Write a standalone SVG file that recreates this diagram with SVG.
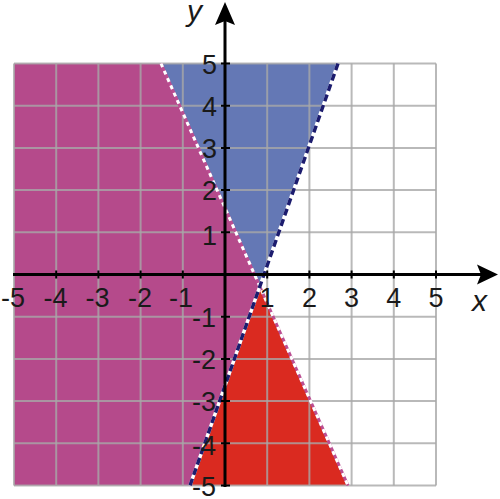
<svg xmlns="http://www.w3.org/2000/svg" width="500" height="499" viewBox="0 0 500 499">
<defs>
<style>
.grid{stroke:#a8a8a8;stroke-width:2;stroke-opacity:0.8;fill:none}
.axis{stroke:#000;stroke-width:3;fill:none}
.tick{stroke:#000;stroke-width:2}
.lbl{font-family:"Liberation Sans",Arial,sans-serif;font-size:27px;fill:#1a1a1a}
.var{font-family:"Liberation Sans",Arial,sans-serif;font-style:italic;font-size:30px;fill:#1a1a1a}
</style>
</defs>
<rect width="500" height="499" fill="#fff"/>
<g id="regions">
<polygon points="14,63.5 161,63.5 259.8,286 190,485.5 14,485.5" fill="#b54a8b"/>
<polygon points="161,63.5 338,63.5 259.8,286" fill="#6478b5"/>
<polygon points="259.8,286 348,485.5 190,485.5" fill="#da2a20"/>
</g>
<g id="grid" class="grid">
<path d="M14,63.5V485.5M56.2,63.5V485.5M98.4,63.5V485.5M140.6,63.5V485.5M182.8,63.5V485.5M267.2,63.5V485.5M309.4,63.5V485.5M351.6,63.5V485.5M393.8,63.5V485.5M436,63.5V485.5"/>
<path d="M14,63.5H436M14,105.7H436M14,147.9H436M14,190.1H436M14,232.3H436M14,316.7H436M14,358.9H436M14,401.1H436M14,443.3H436M14,485.5H436"/>
</g>
<g id="boundaries">
<line x1="161" y1="63.5" x2="348" y2="485.5" stroke="#bb4e92" stroke-width="3"/>
<line x1="161" y1="63.5" x2="348" y2="485.5" stroke="#fff" stroke-width="3" stroke-dasharray="4 4"/>
<line x1="338" y1="63.5" x2="190" y2="485.5" stroke="#fff" stroke-width="3.5"/>
<line x1="338" y1="63.5" x2="190" y2="485.5" stroke="#1c1c6e" stroke-width="3.5" stroke-dasharray="7 4"/>
</g>
<g id="axes">
<line class="axis" x1="13" y1="274.5" x2="484" y2="274.5"/>
<polygon points="498,274.5 477,264.5 481,274.5 477,284.5" fill="#000"/>
<line class="axis" x1="225" y1="487" x2="225" y2="18"/>
<polygon points="225,2 215,25 225,21 235,25" fill="#000"/>
<path class="tick" d="M56.2,270.5V278.5M98.4,270.5V278.5M140.6,270.5V278.5M182.8,270.5V278.5M267.2,270.5V278.5M309.4,270.5V278.5M351.6,270.5V278.5M393.8,270.5V278.5M436,270.5V278.5"/>
<path class="tick" d="M221,63.5H230M221,105.7H230M221,147.9H230M221,190.1H230M221,232.3H230M221,316.7H230M221,358.9H230M221,401.1H230M221,443.3H230M221,485.5H230"/>
</g>
<g id="xlabels" class="lbl" text-anchor="middle">
<text x="13" y="307">-5</text>
<text x="55.5" y="307">-4</text>
<text x="97.5" y="307">-3</text>
<text x="140" y="307">-2</text>
<text x="181" y="307">-1</text>
<text x="267" y="307">1</text>
<text x="309.4" y="307">2</text>
<text x="351.6" y="307">3</text>
<text x="393.8" y="307">4</text>
<text x="436" y="307">5</text>
</g>
<g id="ylabels" class="lbl" text-anchor="end">
<text x="217" y="74">5</text>
<text x="217" y="116">4</text>
<text x="217" y="158">3</text>
<text x="217" y="200">2</text>
<text x="217" y="245">1</text>
<text x="216" y="327">-1</text>
<text x="216" y="369">-2</text>
<text x="216" y="411">-3</text>
<text x="216" y="455">-4</text>
<text x="216" y="496">-5</text>
</g>
<text class="var" x="472" y="311">x</text>
<text class="var" x="187" y="21">y</text>
</svg>
